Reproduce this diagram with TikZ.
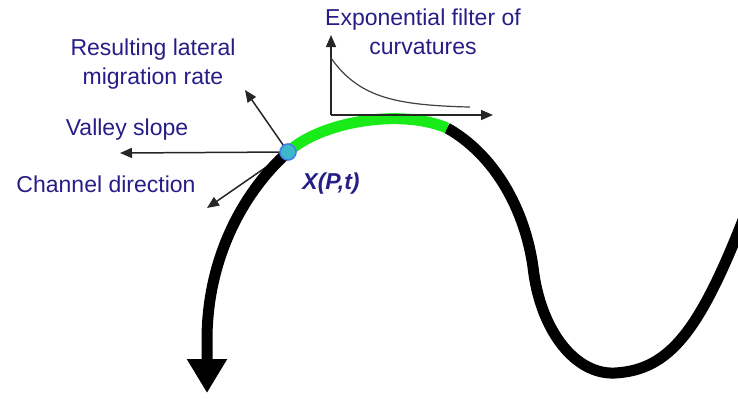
\documentclass[tikz,border=0pt]{standalone}
\usepackage{fontspec}
\setmainfont{Liberation Sans}
\usepackage{tikz}
\usetikzlibrary{arrows.meta,positioning}
\definecolor{labelblue}{RGB}{38,30,135}
\definecolor{bendgreen}{RGB}{25,235,25}
\definecolor{dotcyan}{RGB}{60,185,200}
\definecolor{dotrim}{RGB}{70,125,235}

\begin{document}
\begin{tikzpicture}[
    x=0.5pt, y=-0.5pt,
    font=\fontsize{11.5}{14.5}\selectfont,
    note/.style={text=labelblue, align=center, inner sep=0pt},
    vec/.style={-{Triangle[length=6pt,width=5pt]}, line width=0.75pt, draw=black!85},
    channel/.style={line width=5.5pt},
    dot/.style={circle, draw=dotrim, fill=dotcyan, line width=0.8pt, minimum size=8pt, inner sep=0pt}
]
\clip (0,0) rectangle (738,398);

% labels
\node[note, anchor=north] (filt) at (423,8) {Exponential filter of\\curvatures};
\node[note, anchor=north] (migr) at (153,38) {Resulting lateral\\migration rate};
\node[note, anchor=north] (slope) at (127,118) {Valley slope};
\node[note, anchor=north] (chdir) at (106,175) {Channel direction};
\node[note, anchor=north, font=\fontsize{11.5}{14.5}\selectfont\bfseries\itshape] (pos) at (331,172) {X(P,t)};

% arrow ends
\coordinate (X0) at (288,152);
\coordinate (migrtip) at (245,90);
\coordinate (slopetip) at (120,153);
\coordinate (chdirtip) at (207,208);
\foreach \t in {migrtip, slopetip, chdirtip}
  \draw[vec] (X0) -- (\t);

% channel
\coordinate (bendend) at (447,128);
\coordinate (mouth) at (207,393);
\draw[channel] (bendend) .. controls (495,155) and (525,210) .. (533,267)
  .. controls (540,330) and (575,375) .. (615,373)
  .. controls (670,370) and (700,330) .. (745,215);
\draw[channel, bendgreen] (X0) .. controls (320,122) and (400,108) .. (bendend);
\draw[channel, -{Triangle[length=17pt,width=19pt]}] (X0) .. controls (242,193) and (207,260) .. (207,340) -- (mouth);
\node[dot] (X) at (X0) {};

% filter inset
\coordinate (orig) at (331,115);
\coordinate (ytop) at (331,35);
\coordinate (xend) at (493,115);
\draw[vec] (orig) -- (ytop);
\draw[vec] (orig) -- (xend);
\draw[line width=0.6pt, black!75] plot[domain=331:470, samples=40] (\x, {108-50*exp(-(\x-331)/35)});
\end{tikzpicture}
\end{document}
